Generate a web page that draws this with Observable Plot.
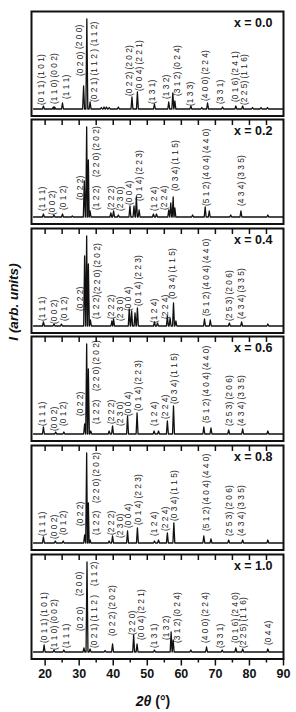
<!DOCTYPE html>
<html><head><meta charset="utf-8">
<script src="https://cdn.jsdelivr.net/npm/d3@7"></script>
<script src="https://cdn.jsdelivr.net/npm/@observablehq/plot@0.6"></script>
<style>
body{margin:0;background:#fff;font-family:"Liberation Sans",Arial,sans-serif;}
#chart{position:relative;width:296px;height:712px;overflow:hidden;background:#fff}
.panel{position:absolute;left:0}
.ylab{position:absolute;left:13px;top:302px;transform:translate(-50%,-50%) rotate(-90deg);white-space:nowrap;font:italic bold 13.5px "Liberation Sans",Arial,sans-serif;color:#111}
.xlab{position:absolute;left:153px;top:701px;transform:translate(-50%,-50%);white-space:nowrap;font:bold 14px "Liberation Sans",Arial,sans-serif;color:#111}
</style></head><body>
<div id="chart"></div>
<script>
// ---------- data ----------
const compositions = ["x = 0.0", "x = 0.2", "x = 0.4", "x = 0.6", "x = 0.8", "x = 1.0"];
const xTicks = [20, 30, 40, 50, 60, 70, 80, 90];
const xMinorTicks = [25, 35, 45, 55, 65, 75, 85];
const topTicks = [20, 25, 30, 35, 40, 45, 50, 55, 60, 65, 70, 75, 80, 85];

// peaks: [2theta, intensity above baseline]
const peaks00 = [[19.5,3],[22.4,2],[22.8,2],[25.1,6],[31.3,23],[32.25,90],[33.2,7],[36.5,1.5],[37.3,2],[38.0,2],[38.8,1.5],[41.5,2],[45.5,12],[47.1,17],[52.1,5],[56.3,7],[57.5,16],[58.1,8],[62.8,3],[66.0,1.5],[67.7,6],[72.1,2],[76.0,3],[78.0,3],[80.9,1.5],[83.4,1.5],[85.3,1.5]];
const peaks02 = [[19.5,3],[22.6,2],[25.1,3],[28.0,1],[31.5,36],[32.2,90],[32.7,57],[33.2,6],[39.3,4],[40.1,6],[41.5,2],[44.9,11],[46.1,11],[46.8,20],[47.6,7],[51.8,3],[52.7,3],[56.3,7],[56.9,14],[57.6,20],[58.1,9],[63.3,2],[67.0,10],[68.2,6],[74.5,2],[77.5,6],[85.4,2]];
const peaks04 = [[19.5,4],[22.6,2],[24.8,2],[31.6,70],[32.2,90],[32.7,62],[33.3,6],[39.6,5],[40.1,7],[44.7,17],[45.4,15],[46.4,13],[47.1,18],[52.1,4],[53.0,3],[55.9,10],[56.7,8],[57.7,23],[58.4,5],[66.8,7],[68.5,6],[74.1,3],[77.7,4],[85.4,2]];
const peaks06 = [[19.5,7],[23.1,2],[25.5,2],[31.6,10],[32.2,90],[32.7,65],[33.4,3],[38.8,3],[39.8,8],[44.2,18],[47.0,21],[52.0,3],[53.3,3],[55.9,13],[57.7,28],[66.6,7],[68.7,6],[73.9,4],[78.0,5],[85.4,3]];
const peaks08 = [[19.5,6],[23.0,2],[25.3,2],[31.6,8],[32.2,90],[32.7,40],[33.2,3],[38.8,2],[39.8,7],[44.2,12],[47.1,15],[52.1,2],[53.3,3],[55.9,10],[57.8,20],[66.6,7],[68.7,4],[73.9,3],[78.0,3],[85.4,3]];
const peaks10 = [[19.7,7],[22.6,2],[25.5,2],[31.4,4],[32.3,90],[33.2,3],[37.6,1.5],[39.8,8],[46.0,17],[47.0,8],[52.1,2],[57.0,20],[57.6,12],[62.8,2],[67.4,5],[72.0,2],[76.0,4],[78.0,3],[85.4,3]];

// hkl labels: [text, 2theta, start intensity]
const labels00 = [["(0 1 1) (1 0 1)",18.8,4],["(1 1 0) (0 0 2)",22.7,5],["(1 1 1)",26.1,10],["(0 2 0)",30.2,33],["(2 0 0)",30.1,60],["(0 2 1) (1 1 2 )",34.5,7],["(1 1 2)",34.5,63],["(0 2 2) (2 0 2)",44.7,13],["(0 0 4) (2 2 1)",47.6,18],["(1 3 1)",51.5,5],["(1 3 2)",55.6,10],["(3 1 2) (0 2 4)",58.7,13],["(1 3 3)",62.7,3],["(4 0 0) (2 2 4)",67.1,8],["(3 3 1)",71.3,5],["(0 1 6) (2 4 1)",75.9,7],["(2 2 5) (1 1 6)",78.4,4]];
const labels02 = [["(1 1 1)",19.2,6],["(0 0 2)",22.2,2],["(0 1 2)",25.4,7],["(0 2 2)",30.2,17],["(2 2 0) (2 0 2)",34.9,40],["(1 2 2)",34.9,7],["(2 2 2)",39.5,7],["(2 3 0)",42.2,6],["(0 0 4)",44.7,12],["(0 1 4) (2 2 3)",47.6,16],["(1 2 4)",52.0,6],["(2 2 4)",54.9,7],["(0 3 4) (1 1 5)",58.1,26],["(5 1 2) (4 0 4) (4 4 0)",67.2,11],["(4 3 4) (3 3 5)",77.5,11]];
const labels04 = [["(1 1 1)",19.2,5],["(0 0 2)",22.6,2],["(0 1 2)",25.5,5],["(0 2 2)",30.2,15],["(2 2 0) (2 0 2)",35.2,32],["(1 2 2)",34.9,7],["(2 2 2)",39.3,7],["(2 3 0)",42.2,5],["(0 0 4)",44.5,15],["(0 1 4) (2 2 3)",47.3,20],["(1 2 4)",52.0,3],["(2 2 4)",55.4,7],["(0 3 4) (1 1 5)",57.4,27],["(5 1 2) (4 0 4) (4 4 0)",67.2,10],["(2 5 3) (2 0 6)",74.1,5],["(4 3 4) (3 3 5)",77.5,7]];
const labels06 = [["(1 1 1)",19.2,8],["(0 0 2)",22.6,3],["(0 1 2)",25.4,8],["(0 2 2)",30.2,18],["(2 2 0) (2 0 2)",35.1,43],["(1 2 2)",34.9,10],["(2 2 2)",39.3,10],["(2 3 0)",42.0,8],["(0 0 4)",44.5,18],["(0 1 4) (2 2 3)",47.3,23],["(1 2 4)",52.0,8],["(2 2 4)",55.2,15],["(0 3 4) (1 1 5)",57.8,30],["(5 1 2) (4 0 4) (4 4 0)",67.2,11],["(2 5 3) (2 0 6)",74.1,8],["(4 3 4) (3 3 5)",77.5,8]];
const labels08 = [["(1 1 1)",19.2,7],["(0 0 2)",22.6,4],["(0 1 2)",25.4,8],["(0 2 2)",30.2,17],["(2 2 0) (2 0 2)",35.1,40],["(1 2 2)",34.9,8],["(2 2 2)",39.3,8],["(2 3 0)",42.0,5],["(0 0 4)",44.5,15],["(0 1 4) (2 2 3)",47.3,18],["(1 2 4)",52.0,7],["(2 2 4)",55.2,12],["(0 3 4) (1 1 5)",57.8,22],["(5 1 2) (4 0 4) (4 4 0)",67.2,12],["(2 5 3) (2 0 6)",74.1,7],["(4 3 4) (3 3 5)",77.5,7]];
const labels10 = [["(0 1 1) (1 0 1)",19.7,9],["(1 1 0) (0 0 2)",22.6,2],["(1 1 1)",26.3,4],["(0 2 0)",30.4,21],["(2 0 0)",30.1,56],["(0 2 1) (1 1 2 )",34.5,4],["(1 1 2)",34.5,66],["(0 2 2) (2 0 2)",39.8,16],["(2 2 0)",45.5,17],["(0 0 4) (2 2 1)",48.1,12],["(1 3 1)",52.1,4],["(1 3 2)",55.6,12],["(3 1 2) (0 2 4)",58.7,9],["(4 0 0) (2 2 4)",67.1,9],["(3 3 1)",71.5,4],["(0 1 6) (2 4 0)",75.9,9],["(2 2 5) (1 1 6)",78.3,4],["(0 4 4)",85.4,7]];

const allPeaks = [peaks00, peaks02, peaks04, peaks06, peaks08, peaks10];
const allLabels = [labels00, labels02, labels04, labels06, labels08, labels10];

// ---------- layout ----------
const W = 296, ML = 31, MR = 13;
const tops = [10.5, 119.1, 227.7, 336.3, 444.9, 553.5];
const PH = 104.5;
const yDomain = [-7, 97.5];
const scan = [16.6, 89.8];
const hw = 0.28;

function profile(pk) {
  const pts = [[scan[0], 0], [scan[1], 0]];
  for (const [x, h] of pk) { pts.push([x - hw, 0], [x, h], [x + hw, 0]); }
  pts.sort((a, b) => a[0] - b[0]);
  return pts;
}

const chart = document.getElementById("chart");
allPeaks.forEach((pk, i) => {
  const isLast = i === allPeaks.length - 1;
  const mt = 3, mb = isLast ? 30 : 3;
  const marks = [
    Plot.line(profile(pk), {x: d => d[0], y: d => d[1], stroke: "#111", strokeWidth: 1.3}),
    Plot.text(allLabels[i], {x: d => d[1], y: d => d[2], text: d => d[0], rotate: -90, textAnchor: "start", lineAnchor: "middle", fontSize: 8.4, fill: "#1a1a1a"}),
    Plot.text([compositions[i]], {frameAnchor: "top-right", dx: -11, dy: 7, lineAnchor: "top", fontWeight: "bold", fontSize: 12.5, fill: "#111"}),
    Plot.frame({stroke: "#111", strokeWidth: 2})
  ];
  if (i > 0) marks.push(Plot.ruleX(topTicks, {y1: yDomain[1], y2: yDomain[1] - 6, stroke: "#111", strokeWidth: 1.5}));
  if (isLast) {
    marks.push(Plot.axisX({ticks: xTicks, tickSize: 7, tickPadding: 3, fontSize: 12.5, fontWeight: "bold", strokeWidth: 1.5, label: null, tickFormat: d => String(d), fill: "#111", stroke: "#111"}));
    marks.push(Plot.axisX({ticks: xMinorTicks, tickSize: 4, strokeWidth: 1.5, label: null, tickFormat: () => "", stroke: "#111"}));
  }
  const svg = Plot.plot({
    width: W, height: PH + mt + mb,
    marginLeft: ML, marginRight: MR, marginTop: mt, marginBottom: mb,
    x: {domain: [16, 90], axis: isLast ? undefined : null},
    y: {domain: yDomain, axis: null},
    style: {fontFamily: '"Liberation Sans", Arial, sans-serif', background: "transparent", overflow: "visible"},
    marks
  });
  const div = document.createElement("div");
  div.className = "panel";
  div.style.top = (tops[i] - mt) + "px";
  div.appendChild(svg);
  chart.appendChild(div);
});

const yl = document.createElement("div");
yl.className = "ylab"; yl.textContent = "I (arb. units)";
chart.appendChild(yl);
const xl = document.createElement("div");
xl.className = "xlab";
xl.innerHTML = '<i>2θ</i> (°)';
chart.appendChild(xl);
</script>
</body></html>
